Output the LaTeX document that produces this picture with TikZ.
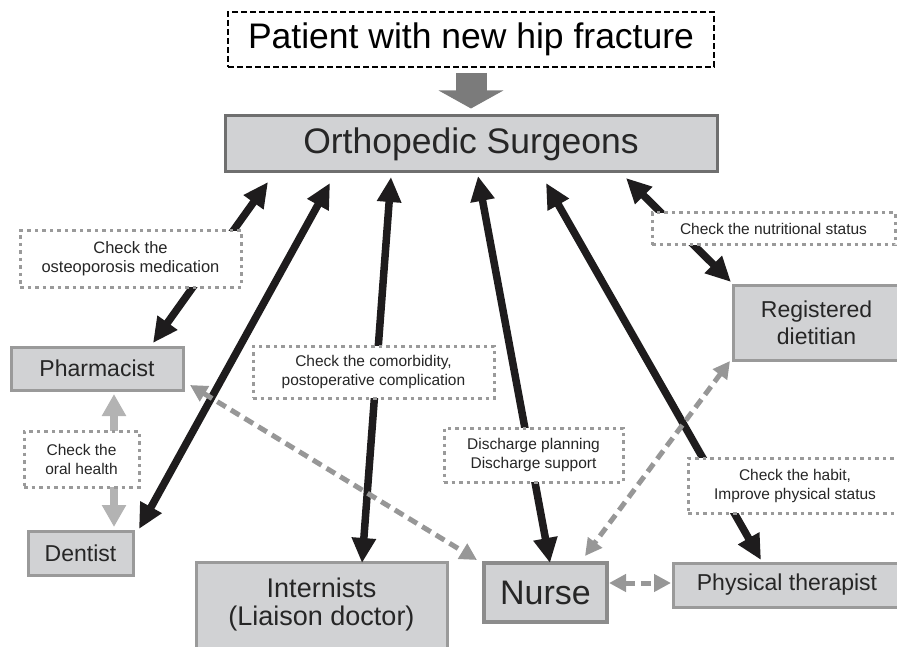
\documentclass[tikz,border=0pt]{standalone}
\usepackage{fontspec}
\setmainfont{Liberation Sans}
\usetikzlibrary{arrows.meta}
\definecolor{boxfill}{HTML}{D1D2D4}
\definecolor{boxline}{HTML}{9A9A9A}
\definecolor{ortholine}{HTML}{6F6F6F}
\definecolor{nurseline}{HTML}{8C8C8C}
\definecolor{arrowblack}{HTML}{1E1C1D}
\definecolor{dashgray}{HTML}{979797}
\definecolor{oralgray}{HTML}{B3B3B3}
\definecolor{blockgray}{HTML}{7B7B7B}
\definecolor{dotline}{HTML}{9A9A9A}
\begin{document}
\begin{tikzpicture}[x=1pt,y=-1pt,
  box/.style={draw=boxline, line width=3pt, fill=boxfill, inner sep=0pt, align=center, text=black!85, font=\fontsize{23}{26}\selectfont},
  titlebox/.style={draw=black, line width=2pt, dash pattern=on 6pt off 3pt, inner sep=0pt, align=center, font=\fontsize{35.5}{40}\selectfont},
  lbl/.style={draw=dotline, line width=3pt, dash pattern=on 3.5pt off 4pt, fill=white, inner sep=0pt, align=center, text=black!85, font=\fontsize{15.5}{19}\selectfont},
  blkline/.style={line width=7.5pt, draw=arrowblack, {Triangle[length=25pt,width=23pt]}-{Triangle[length=25pt,width=23pt]}},
  blkone/.style={line width=7.5pt, draw=arrowblack, -{Triangle[length=25pt,width=23pt]}},
  grayline/.style={line width=5pt, draw=dashgray, dash pattern=on 10pt off 6pt, {Triangle[length=17pt,width=17pt]}-{Triangle[length=17pt,width=17pt]}},
  oralline/.style={line width=8pt, draw=oralgray, {Triangle[length=22pt,width=23pt]}-{Triangle[length=22pt,width=23pt]}},
  blockarrow/.style={line width=31pt, draw=blockgray, -{Triangle[length=18pt,width=64pt]}}
]
\clip (0,0) rectangle (897,647);
\useasboundingbox (0,0) rectangle (897,647);

% main boxes
\node[titlebox, minimum width=486pt, minimum height=55pt] (title) at (471,39.5) {Patient with new hip fracture};
\node[box, draw=ortholine, minimum width=492pt, minimum height=56pt, font=\fontsize{35.5}{40}\selectfont] (ortho) at (471,144) {Orthopedic Surgeons};
\node[box, minimum width=172pt, minimum height=43pt] (pharm) at (97,368.5) {Pharmacist};
\node[box, minimum width=105pt, minimum height=44pt] (dent) at (80.5,553) {Dentist};
\node[box, minimum width=251pt, minimum height=86pt, font=\fontsize{27}{28}\selectfont] (intern) at (321.5,605) {Internists\\(Liaison doctor)};
\node[box, draw=nurseline, line width=4pt, minimum width=123pt, minimum height=59pt, font=\fontsize{34}{36}\selectfont] (nurse) at (545.5,592.5) {Nurse};
\node[box, minimum width=228pt, minimum height=44pt] (pt) at (787,585) {Physical therapist};
\node[box, minimum width=167pt, minimum height=75pt, font=\fontsize{23}{27}\selectfont] (diet) at (816.5,322.5) {Registered\\dietitian};

% arrow end points
\coordinate (oA) at (268,182);
\coordinate (pA) at (153,343);
\coordinate (oB) at (330,183);
\coordinate (dB) at (139,529);
\coordinate (oC) at (391,177);
\coordinate (iC) at (362,563);
\coordinate (oD) at (478,176);
\coordinate (nD) at (550,563);
\coordinate (oE) at (546,183);
\coordinate (tE) at (761,560);
\coordinate (oF) at (626,178);
\coordinate (dF) at (731,282);
\coordinate (pG) at (190,385);
\coordinate (nG) at (477,560);
\coordinate (dH) at (730,361);
\coordinate (nH) at (585,556);
\coordinate (nI) at (609,583);
\coordinate (tI) at (671,583);
\coordinate (pJ) at (114,394);
\coordinate (dJ) at (114,527);

% block arrow
\draw[blockarrow] ([yshift=-5pt]title.south) -- ([yshift=6pt]ortho.north);

% black arrows
\draw[blkline] (pA) -- (oA);
\draw[blkline] (dB) -- (oB);
\draw[blkline] (iC) -- (oC);
\draw[blkline] (nD) -- (oD);
\draw[blkline] (tE) -- (oE);
\draw[blkline] (dF) -- (oF);

% gray arrows
\draw[oralline] (pJ) -- (dJ);
\draw[grayline] (pG) -- (nG);
\draw[grayline] (dH) -- (nH);
\draw[grayline] (nI) -- (tI);

% labels
\node[lbl, minimum width=221pt, minimum height=56pt, font=\fontsize{16.5}{19}\selectfont] (osteo) at (130.5,259) {Check the\\osteoporosis medication};
\node[lbl, minimum width=115pt, minimum height=56pt] (oral) at (81.5,459) {Check the\\oral health};
\node[lbl, minimum width=241pt, minimum height=52pt] (comorb) at (373.5,372) {Check the comorbidity,\\postoperative complication};
\node[lbl, minimum width=179pt, minimum height=54pt] (disch) at (533.5,455) {Discharge planning\\Discharge support};
\node[lbl, minimum width=243pt, minimum height=32pt] (nutri) at (773.5,229) {Check the nutritional status};
\node[lbl, minimum width=214pt, minimum height=55pt] (habit) at (795,485.5) {Check the habit,\\Improve physical status};
\end{tikzpicture}
\end{document}
